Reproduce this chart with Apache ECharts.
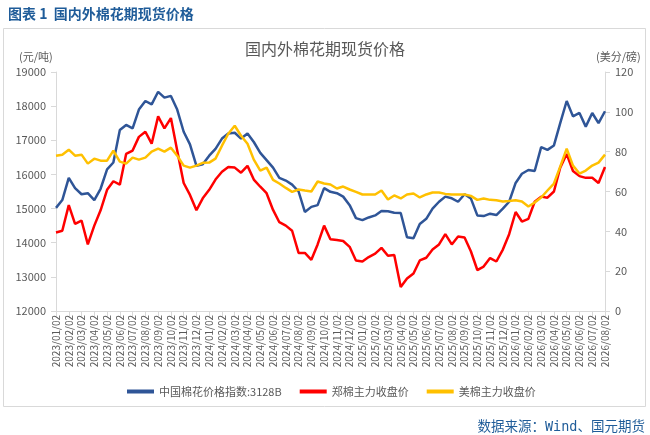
<!DOCTYPE html>
<html><head><meta charset="utf-8">
<script src="https://cdn.jsdelivr.net/npm/echarts@6/dist/echarts.min.js"></script>
<style>html,body{margin:0;padding:0;background:#fff}#c{width:650px;height:435px}</style>
</head><body><div id="c"></div>
<script>
// Monthly tick labels on the x axis
const tickLabels = ["2023/01/02","2023/02/02","2023/03/02","2023/04/02","2023/05/02","2023/06/02","2023/07/02","2023/08/02","2023/09/02","2023/10/02","2023/11/02","2023/12/02",
"2024/01/02","2024/02/02","2024/03/02","2024/04/02","2024/05/02","2024/06/02","2024/07/02","2024/08/02","2024/09/02","2024/10/02","2024/11/02","2024/12/02",
"2025/01/02","2025/02/02","2025/03/02","2025/04/02","2025/05/02","2025/06/02","2025/07/02","2025/08/02","2025/09/02","2025/10/02","2025/11/02","2025/12/02",
"2026/01/02","2026/02/02","2026/03/02","2026/04/02","2026/05/02","2026/06/02","2026/07/02","2026/08/02"];

// Sample dates (twice a month)
const dates = ["2023/01/02","2023/01/17","2023/02/02","2023/02/17","2023/03/02","2023/03/17","2023/04/02","2023/04/17","2023/05/02","2023/05/17","2023/06/02","2023/06/17",
"2023/07/02","2023/07/17","2023/08/02","2023/08/17","2023/09/02","2023/09/17","2023/10/02","2023/10/17","2023/11/02","2023/11/17","2023/12/02","2023/12/17",
"2024/01/02","2024/01/17","2024/02/02","2024/02/17","2024/03/02","2024/03/17","2024/04/02","2024/04/17","2024/05/02","2024/05/17","2024/06/02","2024/06/17",
"2024/07/02","2024/07/17","2024/08/02","2024/08/17","2024/09/02","2024/09/17","2024/10/02","2024/10/17","2024/11/02","2024/11/17","2024/12/02","2024/12/17",
"2025/01/02","2025/01/17","2025/02/02","2025/02/17","2025/03/02","2025/03/17","2025/04/02","2025/04/17","2025/05/02","2025/05/17","2025/06/02","2025/06/17",
"2025/07/02","2025/07/17","2025/08/02","2025/08/17","2025/09/02","2025/09/17","2025/10/02","2025/10/17","2025/11/02","2025/11/17","2025/12/02","2025/12/17",
"2026/01/02","2026/01/17","2026/02/02","2026/02/17","2026/03/02","2026/03/17","2026/04/02","2026/04/17","2026/05/02","2026/05/17","2026/06/02","2026/06/17",
"2026/07/02","2026/07/17","2026/08/02"];

// 中国棉花价格指数:3128B (元/吨)
const cnIndex = [15020,15250,15900,15600,15420,15450,15250,15580,16150,16350,17300,17450,
17350,17900,18150,18050,18420,18250,18300,17900,17250,16880,16250,16300,
16550,16750,17050,17200,17220,17050,17200,16950,16630,16420,16200,15900,
15820,15700,15500,14900,15050,15100,15600,15490,15450,15350,15100,14720,
14660,14740,14800,14930,14920,14880,14870,14160,14130,14550,14700,15000,
15200,15350,15300,15200,15420,15300,14800,14780,14850,14810,15000,15200,
15750,16020,16130,16100,16800,16720,16850,17500,18150,17700,17800,17400,
17800,17500,17850];

// 郑棉主力收盘价 (元/吨)
const czceCotton = [14300,14350,15100,14550,14650,13950,14500,14950,15550,15800,15700,16600,
16700,17100,17250,16900,17700,17350,17650,16700,15750,15400,14950,15300,
15550,15850,16080,16220,16200,16050,16250,15850,15640,15450,14960,14600,
14500,14350,13700,13700,13500,13950,14500,14100,14080,14050,13880,13480,
13450,13580,13680,13850,13620,13640,12700,12950,13100,13480,13560,13800,
13950,14250,13950,14180,14150,13750,13200,13300,13550,13450,13800,14250,
14900,14620,14700,15200,15350,15320,15500,16200,16600,16100,15950,15900,
15900,15750,16220];

// 美棉主力收盘价 (美分/磅)
const iceCotton = [78,78.5,81,78,78.5,74,76.5,75.5,75.5,80.5,75,74,
77,76,77,80,81.5,80,82,78,73,72,73,74.4,
74.5,76.5,83,89,93,88,84,76,70.5,72,65.8,64,
61.8,59.8,61,60.5,60,65,64,63.5,61.5,62.5,61,59.8,
58.5,58.5,58.5,60.5,56,58,56.5,58.5,59,57,58.5,59.5,
59.5,58.8,58.5,58.5,58.5,57.8,55.8,56.5,55.8,55.6,55,55.2,
55.6,55,52.5,54.5,57,60.5,64,72.5,81.5,73,69,70.5,
73,74.5,78.5];

const seriesNames = ["中国棉花价格指数:3128B","郑棉主力收盘价","美棉主力收盘价"];

function monthPos(s){
  const p = s.split("/").map(Number);
  return (p[0]-2023)*12 + (p[1]-1) + (p[2]-2)/30.44;
}
const xs = dates.map(monthPos);
const pair = arr => arr.map((v,i)=>[xs[i], v]);

const gray = "#595959", axisCol = "#d9d9d9", blueTxt = "#1f5c99";
const cjk = '"Noto Sans CJK SC","Noto Sans",sans-serif';

const chart = echarts.init(document.getElementById("c"), null, {renderer:"canvas"});
chart.setOption({
  animation:false,
  backgroundColor:"#fff",
  textStyle:{fontFamily:cjk},
  title:[
    {text:"国内外棉花期现货价格", left:"center", top:36, textStyle:{fontSize:16, fontWeight:"normal", color:gray, fontFamily:cjk}},
    {text:"图表 1  国内外棉花期现货价格", left:3, top:2, textStyle:{fontSize:14, fontWeight:"bold", color:blueTxt, fontFamily:cjk}},
    {text:"数据来源：Wind、国元期货", right:0, top:416, textStyle:{fontSize:13.5, fontWeight:"normal", color:blueTxt, fontFamily:'"DejaVu Sans Mono","Noto Sans CJK SC",monospace'}}
  ],
  graphic:[
    {type:"rect", shape:{x:3.5, y:28.5, width:642, height:378}, style:{fill:"none", stroke:"#d9d9d9", lineWidth:1}, silent:true, z:-1},
    {type:"text", left:19, top:51, style:{text:"(元/吨)", fill:gray, fontSize:11, fontFamily:cjk}},
    {type:"text", left:596, top:51, style:{text:"(美分/磅)", fill:gray, fontSize:11, fontFamily:cjk}}
  ],
  legend:{
    data:seriesNames, left:122, top:381, itemGap:18, itemWidth:27, itemHeight:4, icon:"rect",
    textStyle:{color:gray, fontSize:11, fontFamily:cjk}
  },
  grid:{left:56, right:45, top:72, bottom:124, containLabel:false},
  xAxis:{
    type:"value", min:0, max:43, interval:1,
    axisLine:{show:true, lineStyle:{color:axisCol}},
    axisTick:{show:true, length:5, lineStyle:{color:axisCol}},
    splitLine:{show:false},
    axisLabel:{rotate:90, fontSize:10, color:gray, margin:4, formatter:v=>tickLabels[Math.round(v)] || "", showMinLabel:true, showMaxLabel:true}
  },
  yAxis:[
    {type:"value", min:12000, max:19000, interval:1000, position:"left",
     axisLine:{show:true, lineStyle:{color:axisCol}}, axisTick:{show:true, length:5, lineStyle:{color:axisCol}},
     splitLine:{show:false}, axisLabel:{fontSize:11, color:gray, margin:10, formatter:v=>String(v)}},
    {type:"value", min:0, max:120, interval:20, position:"right",
     axisLine:{show:true, lineStyle:{color:axisCol}}, axisTick:{show:true, length:5, lineStyle:{color:axisCol}},
     splitLine:{show:false}, axisLabel:{fontSize:11, color:gray, margin:10, formatter:v=>String(v)}}
  ],
  series:[
    {name:seriesNames[0], type:"line", yAxisIndex:0, data:pair(cnIndex), symbol:"none", lineStyle:{width:2.5, color:"#2f5597"}, itemStyle:{color:"#2f5597"}},
    {name:seriesNames[1], type:"line", yAxisIndex:0, data:pair(czceCotton), symbol:"none", lineStyle:{width:2.5, color:"#ff0000"}, itemStyle:{color:"#ff0000"}},
    {name:seriesNames[2], type:"line", yAxisIndex:1, data:pair(iceCotton), symbol:"none", lineStyle:{width:2.5, color:"#ffc000"}, itemStyle:{color:"#ffc000"}}
  ]
});
</script></body></html>
